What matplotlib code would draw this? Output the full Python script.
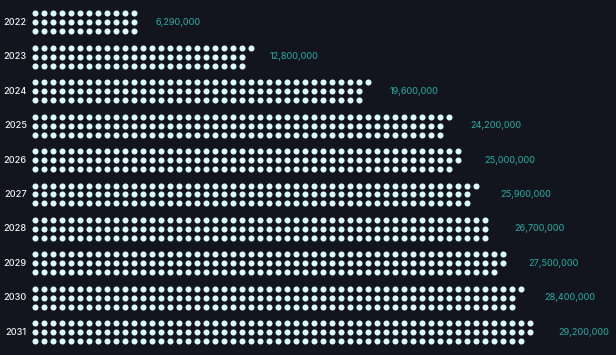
import matplotlib.pyplot as plt

# Data
years = ['2022', '2023', '2024', '2025', '2026', '2027', '2028', '2029', '2030', '2031']
values = [6290000, 12800000, 19600000, 24200000, 25000000, 25900000,
          26700000, 27500000, 28400000, 29200000]
dot_unit = 174450  # people per dot
rows_per_group = 3

bg = '#12151e'
dot_color = '#dcfafa'
value_color = '#1fb0a2'
year_color = '#f2f2f2'

row_step = 0.261  # vertical step between dot rows (in group units)

fig = plt.figure(figsize=(6.16, 3.55), dpi=100, facecolor=bg)
ax = fig.add_axes([0, 0, 1, 1])
ax.set_facecolor(bg)

for i, (year, val) in enumerate(zip(years, values)):
    n = int(round(val / dot_unit))
    xs, ys = [], []
    for k in range(n):
        xs.append(k // rows_per_group)
        ys.append(i + (k % rows_per_group) * row_step)
    ax.scatter(xs, ys, s=19, color=dot_color, linewidths=0)
    ax.text(-0.9, i + row_step, year, ha='right', va='center',
            fontsize=6.6, color=year_color, fontfamily='Inter', fontweight='medium')
    # value labels sit on a linear scale of the value
    label_x = 1.045 + 1.9545 * val / 1e6
    ax.text(label_x, i + row_step, f'{val:,}', ha='left', va='center',
            fontsize=6.6, color=value_color, fontfamily='Inter')

ax.set_xlim(-35 / 9, (616 - 35) / 9)
ax.set_ylim((355 - 13.3) / 34.44, -13.3 / 34.44)
ax.axis('off')

fig.savefig('out.png', dpi=100, facecolor=bg)
